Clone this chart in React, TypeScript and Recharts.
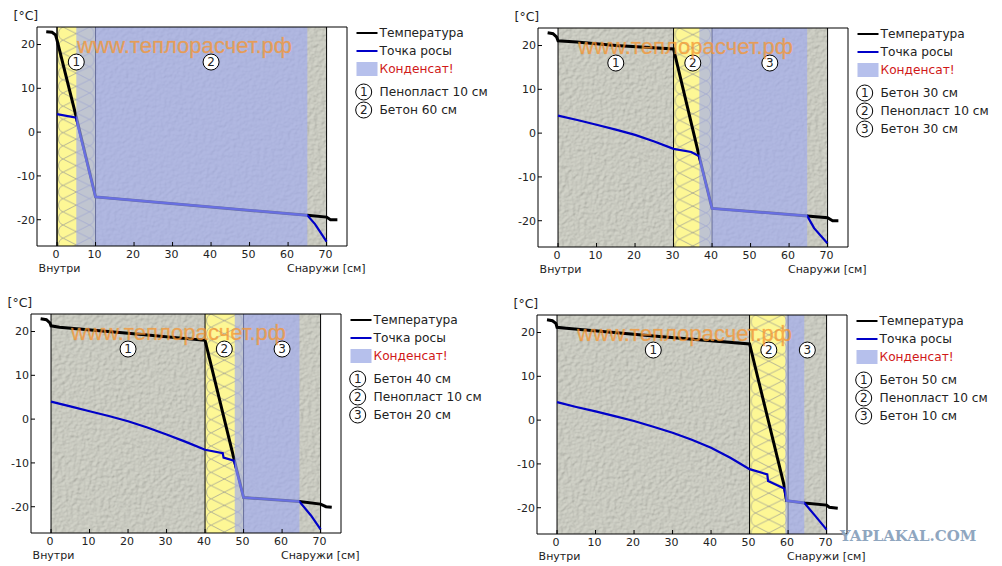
import React from 'react';
import {
  ComposedChart,
  Line,
  XAxis,
  YAxis,
  ReferenceArea,
  ReferenceLine,
  ReferenceDot
} from 'recharts';

type Pt = { x: number; y: number };

const toPts = (rows: number[][]): Pt[] => rows.map(([x, y]) => ({ x, y }));

const xTicks = [0, 10, 20, 30, 40, 50, 60, 70];
const yTicks = [-20, -10, 0, 10, 20];

// panel 1: foam 10 + concrete 60
const tempA = [[-2.8, 22.9], [-1.3, 22.8], [-0.4, 22.2], [0, 21], [5, 3.4], [10, -14.8], [65, -19], [70, -19.4], [71, -20], [72.8, -20]];
const dewA = [[0, 4.1], [5, 3.3], [5.1, 2.6], [10, -14.8], [65, -19], [67, -21], [70, -25]];
const layersA = ['Пенопласт 10 см', 'Бетон 60 см'];
const circlesA = [5, 40];

// panel 2: concrete 30 + foam 10 + concrete 30
const tempB = [[-2.7, 22.9], [-1.3, 22.7], [-0.4, 22], [0, 21.1], [4.8, 20.8], [15, 20], [30, 19.2], [36.6, -5.1], [40, -17.2], [64.7, -18.9], [70, -19.3], [71.3, -20], [72.8, -20]];
const dewB = [[0, 4], [5, 3], [10, 1.9], [15, 0.8], [20, -0.4], [25, -1.9], [30, -3.6], [34.6, -4.3], [36.6, -5.2], [40, -17.2], [64.7, -18.9], [66.5, -21.7], [70, -25.2]];
const layersB = ['Бетон 30 см', 'Пенопласт 10 см', 'Бетон 30 см'];
const circlesB = [15, 35, 55];

// panel 3: concrete 40 + foam 10 + concrete 20
const tempC = [[-2.7, 22.9], [-1.2, 22.7], [-0.3, 22], [0, 21.3], [2.2, 21], [20, 19.6], [40, 18], [47.5, -9], [50, -17.9], [64.5, -18.8], [70, -19.4], [71.4, -20], [72.9, -20.1]];
const dewC = [[0, 4], [5, 2.9], [10, 1.8], [15, 0.7], [20, -0.5], [25, -1.9], [30, -3.5], [35, -5.2], [40, -7], [44.6, -7.8], [44.8, -8.8], [47.5, -9.5], [50, -17.9], [64.5, -18.8], [67.5, -22], [70, -25.2]];
const layersC = ['Бетон 40 см', 'Пенопласт 10 см', 'Бетон 20 см'];
const circlesC = [20, 45, 60];

// panel 4: concrete 50 + foam 10 + concrete 10
const tempD = [[-2.6, 22.9], [-1.2, 22.7], [-0.3, 22.1], [0, 21.2], [2.4, 21], [25, 19.2], [50, 17.4], [59, -15], [59.6, -18.4], [64.2, -18.9], [70, -19.4], [70.7, -19.9], [72.9, -20.1]];
const dewD = [[0, 4.1], [5, 3], [10, 2], [15, 0.9], [20, -0.2], [25, -1.5], [30, -2.9], [35, -4.5], [40, -6.3], [45, -8.6], [50, -11.2], [54.6, -12.4], [54.8, -13.9], [59, -15.6], [59.6, -18.4], [64.2, -18.9], [67, -21.8], [70, -25]];
const layersD = ['Бетон 50 см', 'Пенопласт 10 см', 'Бетон 10 см'];
const circlesD = [25, 55, 65];

const FONT = '"DejaVu Sans", sans-serif';
const FS = 11;
const LEGEND_FS = 12.2;
const CONDENSATE = '#a0aaf0';

const concreteShape = (p: any) => (
  <g>
    <rect x={p.x} y={p.y} width={p.width} height={p.height} fill="#c6c8b9" filter="url(#concreteTex)" />
  </g>
);

const foamShape = (p: any) => (
  <g transform={`translate(${p.x},${p.y})`}>
    <rect x={0} y={0} width={p.width} height={p.height} fill="url(#foamTile)" />
  </g>
);

const condensateShape = (p: any) => (
  <rect x={p.x} y={p.y} width={p.width} height={p.height} fill={CONDENSATE} fillOpacity={0.65} />
);

interface PanelProps {
  left: number;
  top: number;
  temp: number[][];
  dew: number[][];
  foam: [number, number];
  condensate: [number, number];
  layers: string[];
  circles: number[];
}

const MARGIN = { top: 26, right: 9, bottom: 36, left: 39 };

const Panel: React.FC<PanelProps> = ({ left, top, temp, dew, foam, condensate, layers, circles }) => {
  const txt = (x: number, y: number, s: string, fill = '#222', size = FS) => (
    <text x={x + 40} y={y + 27} fontFamily={FONT} fontSize={size} fill={fill} dominantBaseline="central">
      {s}
    </text>
  );
  return (
    <div style={{ position: 'absolute', left: left - 40, top: top - 27, width: 500, height: 283 }}>
      <ComposedChart width={360} height={283} margin={MARGIN}>
        <XAxis
          xAxisId={0}
          type="number"
          dataKey="x"
          domain={[-5.2, 75.3]}
          ticks={xTicks}
          allowDataOverflow
          height={1}
          tickSize={-4}
          tickMargin={8}
          stroke="#000"
          tick={{ fill: '#222', fontSize: FS, fontFamily: FONT, dx: -1 }}
        />
        <XAxis
          xAxisId="top"
          orientation="top"
          type="number"
          dataKey="x"
          domain={[-5.2, 75.3]}
          ticks={xTicks}
          allowDataOverflow
          height={1}
          tickSize={-4}
          stroke="#000"
          tick={false}
        />
        <YAxis
          yAxisId={0}
          type="number"
          domain={[-26, 24]}
          ticks={yTicks}
          allowDataOverflow
          width={1}
          tickSize={-4}
          tickMargin={6}
          stroke="#000"
          tick={{ fill: '#222', fontSize: FS, fontFamily: FONT }}
        />
        <YAxis
          yAxisId="right"
          orientation="right"
          type="number"
          domain={[-26, 24]}
          ticks={yTicks}
          allowDataOverflow
          width={1}
          tickSize={-4}
          stroke="#000"
          tick={false}
        />

        <ReferenceArea x1={0} x2={70} shape={concreteShape} zIndex={50} />
        <ReferenceArea x1={foam[0]} x2={foam[1]} shape={foamShape} zIndex={60} />
        <ReferenceLine x={0} stroke="#000" zIndex={70} />
        <ReferenceLine x={70} stroke="#000" zIndex={70} />
        <ReferenceLine x={foam[0]} stroke="#000" zIndex={70} />
        <ReferenceLine x={foam[1]} stroke="#000" zIndex={70} />

        <Line
          data={toPts(temp)}
          dataKey="y"
          type="linear"
          stroke="#000"
          strokeWidth={3}
          dot={false}
          isAnimationActive={false}
        />
        <Line
          data={toPts(dew)}
          dataKey="y"
          type="linear"
          stroke="#0000c8"
          strokeWidth={2.2}
          dot={false}
          isAnimationActive={false}
        />

        <ReferenceArea x1={condensate[0]} x2={condensate[1]} shape={condensateShape} zIndex={450} />

        {circles.map((c, i) => (
          <ReferenceDot
            key={i}
            x={c}
            y={16}
            r={8}
            fill="#fff"
            stroke="#000"
            zIndex={600}
            label={{ value: String(i + 1), position: 'center', fontSize: 12, fontFamily: FONT, fill: '#222' }}
          />
        ))}
      </ComposedChart>

      <svg width={500} height={283} style={{ position: 'absolute', left: 0, top: 0, pointerEvents: 'none' }}>
        {txt(-23.5, -12, '[°C]', '#222', 12.5)}
        {txt(1.6, 241.6, 'Внутри')}
        {txt(250, 241.6, 'Снаружи [см]')}
        <text
          x={80}
          y={45}
          fontFamily='"Liberation Sans", sans-serif'
          fontSize={22.1}
          fill="#f59632"
          fillOpacity={0.75}
          stroke="#f59632"
          strokeOpacity={0.4}
          strokeWidth={0.5}
          dominantBaseline="central"
        >
          www.теплорасчет.рф
        </text>

        <line x1={359.5} x2={380.5} y1={33} y2={33} stroke="#000" strokeWidth={2} />
        {txt(342.5, 6, 'Температура', '#222', LEGEND_FS)}
        <line x1={359.5} x2={380.5} y1={51} y2={51} stroke="#0000c8" strokeWidth={2} />
        {txt(342.5, 24, 'Точка росы', '#222', LEGEND_FS)}
        <rect x={359.5} y={62} width={21} height={14} fill="#b6c0ec" />
        {txt(342.5, 42, 'Конденсат!', '#d01818', LEGEND_FS)}
        {layers.map((s, i) => (
          <g key={i}>
            <circle cx={366.7} cy={92 + 18 * i} r={8} fill="#fff" stroke="#000" />
            <text x={366.7} y={92 + 18 * i} fontFamily={FONT} fontSize={12} fill="#222" textAnchor="middle" dominantBaseline="central">
              {i + 1}
            </text>
            {txt(342.5, 65 + 18 * i, s, '#222', LEGEND_FS)}
          </g>
        ))}
      </svg>
    </div>
  );
};

export default function App() {
  return (
    <div style={{ position: 'absolute', left: 0, top: 0, width: 1002, height: 566, background: '#fff', overflow: 'hidden' }}>
      <svg width={0} height={0} style={{ position: 'absolute' }}>
        <defs>
          <filter id="concreteTex" x="0" y="0" width="100%" height="100%">
            <feTurbulence type="fractalNoise" baseFrequency="0.26 0.3" numOctaves={2} seed={4} result="n" />
            <feDiffuseLighting in="n" surfaceScale={0.9} lightingColor="#d4d5cb" result="lit">
              <feDistantLight azimuth={225} elevation={62} />
            </feDiffuseLighting>
            <feComposite in="lit" in2="SourceAlpha" operator="in" />
          </filter>
          <pattern id="foamTile" patternUnits="userSpaceOnUse" width={38.5} height={13.2}>
            <rect width={38.5} height={13.2} fill="#fdf795" />
            <path
              d="M6,0 L32.5,13.2 M6,13.2 L32.5,0 M6,0 C0,2 0,11.2 6,13.2 M32.5,0 C38.5,2 38.5,11.2 32.5,13.2"
              fill="none"
              stroke="#a3a393"
              strokeWidth={0.8}
            />
          </pattern>
        </defs>
      </svg>

      <Panel left={36.7} top={26.7} temp={tempA} dew={dewA} foam={[0, 10]} condensate={[5, 65]} layers={layersA} circles={circlesA} />
      <Panel left={538.3} top={28.3} temp={tempB} dew={dewB} foam={[30, 40]} condensate={[36.7, 64.7]} layers={layersB} circles={circlesB} />
      <Panel left={31.3} top={313.7} temp={tempC} dew={dewC} foam={[40, 50]} condensate={[47.7, 64.5]} layers={layersC} circles={circlesC} />
      <Panel left={537.3} top={315} temp={tempD} dew={dewD} foam={[50, 60]} condensate={[59.3, 64.2]} layers={layersD} circles={circlesD} />

      <div
        style={{
          position: 'absolute',
          left: 840,
          top: 527,
          fontFamily: '"DejaVu Serif", serif',
          fontWeight: 'bold',
          fontSize: 15,
          color: '#8fa6bf',
          whiteSpace: 'nowrap'
        }}
      >
        YAPLAKAL.COM
      </div>
    </div>
  );
}
